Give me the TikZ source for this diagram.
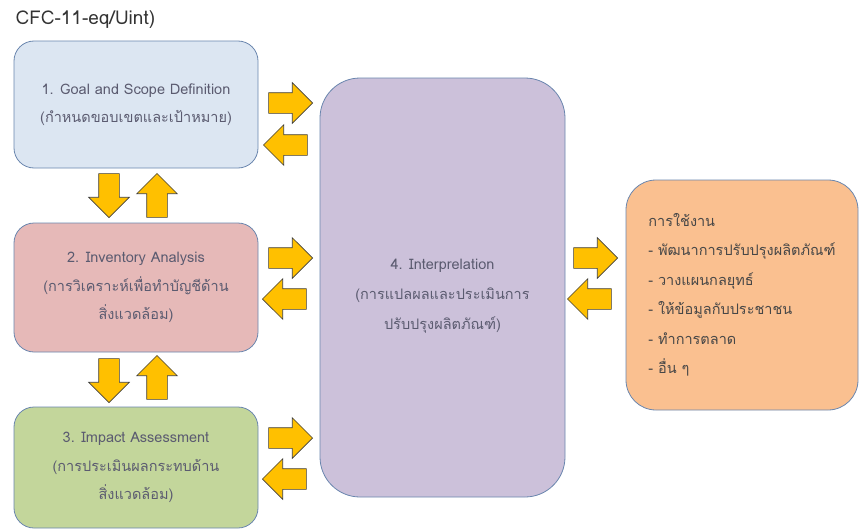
\documentclass[tikz,border=0pt]{standalone}
\usepackage{fontspec}
\setmainfont{Loma}[Script=Thai]
\usetikzlibrary{shapes.arrows}

\definecolor{goalfill}{HTML}{DCE6F2}
\definecolor{invfill}{HTML}{E6B9B8}
\definecolor{impfill}{HTML}{C3D69B}
\definecolor{intfill}{HTML}{CCC1DA}
\definecolor{usefill}{HTML}{FAC090}
\definecolor{boxline}{HTML}{6A86AE}
\definecolor{boxtext}{HTML}{5B5B70}
\definecolor{arrowfill}{HTML}{FFC000}
\definecolor{arrowline}{HTML}{3F3F3F}

\begin{document}
\begin{tikzpicture}[x=1pt, y=1pt,
    box/.style={draw=boxline, line width=0.8pt, rounded corners=20pt, align=center,
        text=boxtext, font=\fontsize{14.5pt}{28.5pt}\selectfont},
    blockarrow/.style={single arrow, draw=arrowline, fill=arrowfill, line width=0.6pt,
        minimum height=44pt, minimum width=40pt, single arrow head extend=10pt,
        inner xsep=0pt, inner ysep=10pt, anchor=tip}]
            \useasboundingbox (0,0) rectangle (859,-530);

            \node[anchor=west, text=black!80, font=\fontsize{19pt}{21pt}\selectfont] (title) at (12,-20) {CFC-11-eq/Uint)};

            \node[box, fill=goalfill, minimum width=244pt, minimum height=127pt] (goal) at (136,-104.5)
                {1. Goal and Scope Definition\\(กำหนดขอบเขตและเป้าหมาย)};
            \node[box, fill=invfill, minimum width=244pt, minimum height=129pt] (inv) at (136,-287.5)
                {2. Inventory Analysis\\(การวิเคราะห์เพื่อทำบัญชีด้าน\\สิ่งแวดล้อม)};
            \node[box, fill=impfill, minimum width=244pt, minimum height=121pt] (imp) at (136,-467.5)
                {3. Impact Assessment\\(การประเมินผลกระทบด้าน\\สิ่งแวดล้อม)};
            \node[box, fill=intfill, rounded corners=40pt, minimum width=245pt, minimum height=419pt] (interp) at (442.5,-287.5)
                {};
            \node[text=boxtext, align=center, font=\fontsize{14.5pt}{30pt}\selectfont] (interptext) at (442.5,-296)
                {4. Interprelation\\(การแปลผลและประเมินการ\\ปรับปรุงผลิตภัณฑ์)};
            \node[box, fill=usefill, rounded corners=30pt, align=left, text=black!72,
                font=\fontsize{14.5pt}{29.5pt}\selectfont, minimum width=232pt, minimum height=230pt] (use) at (742,-295)
                {การใช้งาน\\- พัฒนาการปรับปรุงผลิตภัณฑ์\\- วางแผนกลยุทธ์\\- ให้ข้อมูลกับประชาชน\\- ทำการตลาด\\- อื่น ๆ};

            % ลูกศรระหว่างกล่อง (วางที่ปลายลูกศร)
            \node[blockarrow] (goalout) at (313,-103) {};
            \node[blockarrow, rotate=180] (goalin) at (263,-145) {};
            \node[blockarrow] (invout) at (313,-258) {};
            \node[blockarrow, rotate=180] (invin) at (262,-299) {};
            \node[blockarrow] (impout) at (313,-438) {};
            \node[blockarrow, rotate=180] (impin) at (262,-479) {};
            \node[blockarrow] (useout) at (618,-258) {};
            \node[blockarrow, rotate=180] (usein) at (567,-299) {};

            \node[blockarrow, rotate=-90] (down1) at (109,-218) {};
            \node[blockarrow, rotate=90] (up1) at (157,-173) {};
            \node[blockarrow, rotate=-90] (down2) at (109,-403) {};
            \node[blockarrow, rotate=90] (up2) at (157,-355) {};
        \end{tikzpicture}
\end{document}
